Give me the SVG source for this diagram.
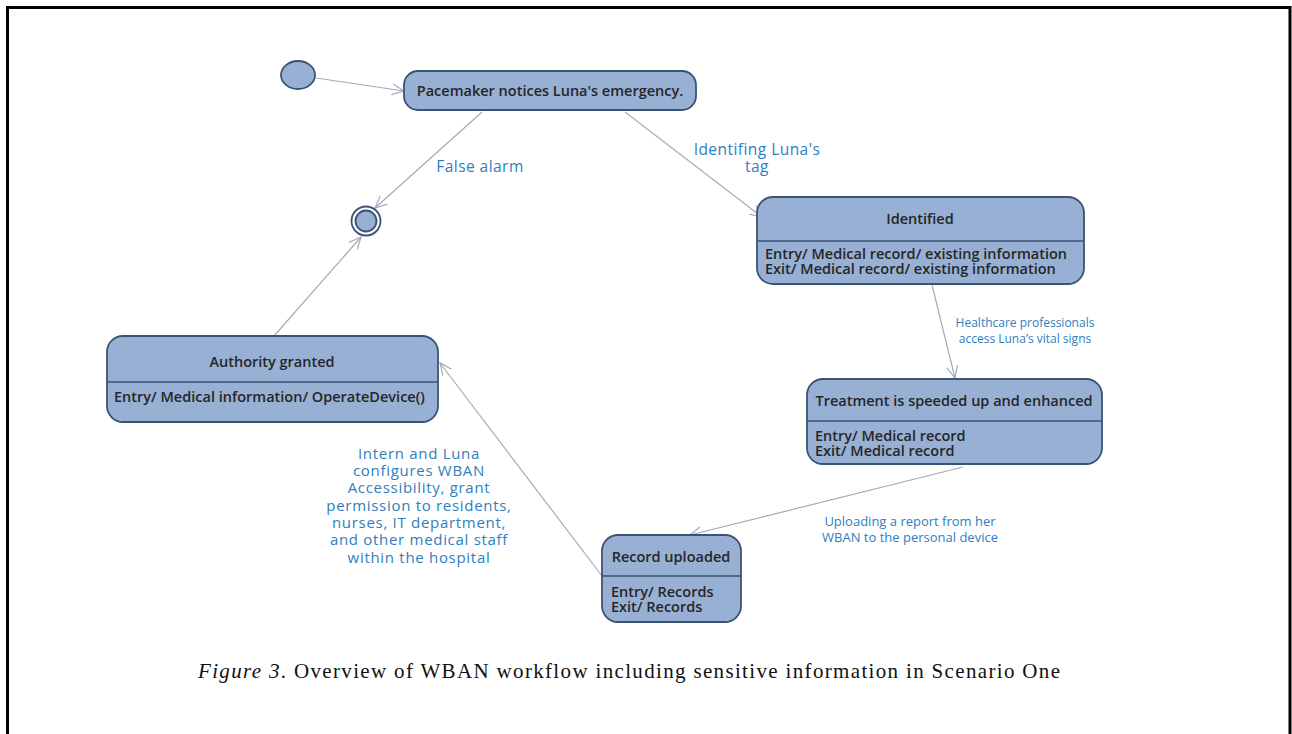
<svg xmlns="http://www.w3.org/2000/svg" width="1292" height="734" viewBox="0 0 1292 734">
  <style>
    .node { fill: #97b0d4; stroke: #3a5375; stroke-width: 1.8; }
    .div { stroke: #3a5375; stroke-width: 1.3; }
    .t { font-family: "Open Sans", "Liberation Sans", sans-serif; font-size: 14.5px; font-weight: 600; fill: #262626; }
    .c { text-anchor: middle; }
    .lbl { font-family: "Open Sans", "Liberation Sans", sans-serif; font-size: 15.5px; letter-spacing: 0.45px; fill: #2f7ec0; text-anchor: middle; }
    .blk { font-size: 15px; letter-spacing: 0.7px; }
    .sm { font-size: 12px; letter-spacing: 0; }
    .md { font-size: 13px; letter-spacing: 0; }
    .edge { fill: none; stroke: #a4abbb; stroke-width: 1.2; marker-end: url(#open); }
    .cap { font-family: "Liberation Serif", "DejaVu Serif", serif; font-size: 21px; fill: #111; }
  </style>
  <defs>
    <marker id="open" viewBox="0 0 13 13" refX="12" refY="6.5" markerWidth="13" markerHeight="13" markerUnits="userSpaceOnUse" orient="auto">
      <path d="M0,1 L12,6.5 L0,12" fill="none" stroke="#a4abbb" stroke-width="1.2"/>
    </marker>
  </defs>

  <rect x="0" y="0" width="1292" height="734" fill="#ffffff"/>
  <!-- page frame -->
  <path d="M7.5,740 L7.5,7.5 L1290,7.5 L1290,740" fill="none" stroke="#000" stroke-width="3"/>

  <!-- connectors -->
  <g id="connectors">
    <line class="edge" x1="316" y1="78" x2="404" y2="91"/>
    <line class="edge" x1="482" y1="112" x2="375" y2="208"/>
    <line class="edge" x1="625" y1="112" x2="762" y2="217"/>
    <line class="edge" x1="932" y1="285" x2="955" y2="378"/>
    <line class="edge" x1="963" y1="467" x2="690" y2="535"/>
    <line class="edge" x1="602" y1="576" x2="440" y2="363"/>
    <line class="edge" x1="274" y1="336" x2="361" y2="237"/>
  </g>

  <!-- connector labels -->
  <g id="labels">
    <text class="lbl" x="480" y="172">False alarm</text>
    <text class="lbl" x="757" y="155">Identifing Luna's</text>
    <text class="lbl" x="757" y="172">tag</text>
    <text class="lbl sm" x="1025" y="327">Healthcare professionals</text>
    <text class="lbl sm" x="1025" y="343">access Luna’s vital signs</text>
    <text class="lbl md" x="910" y="526">Uploading a report from her</text>
    <text class="lbl md" x="910" y="542">WBAN to the personal device</text>
    <text class="lbl blk" x="419" y="459">Intern and Luna</text>
    <text class="lbl blk" x="419" y="476">configures WBAN</text>
    <text class="lbl blk" x="419" y="493">Accessibility, grant</text>
    <text class="lbl blk" x="419" y="511">permission to residents,</text>
    <text class="lbl blk" x="419" y="528">nurses, IT department,</text>
    <text class="lbl blk" x="419" y="545">and other medical staff</text>
    <text class="lbl blk" x="419" y="563">within the hospital</text>
  </g>

  <!-- initial pseudo-state -->
  <g id="start">
    <ellipse cx="298" cy="75" rx="17" ry="14" class="node" stroke-width="1"/>
  </g>

  <!-- final state -->
  <g id="final">
    <circle cx="366" cy="221" r="14.5" fill="#ffffff" stroke="#3a5375" stroke-width="1.8"/>
    <circle cx="366" cy="221" r="10.5" class="node" stroke-width="1"/>
  </g>

  <g id="pacemaker">
    <rect class="node" x="404" y="71" width="292" height="39" rx="14"/>
    <text class="t c" x="550" y="96">Pacemaker notices Luna's emergency.</text>
  </g>

  <g id="identified">
    <rect class="node" x="757" y="197" width="327" height="87" rx="16"/>
    <line class="div" x1="757" y1="241" x2="1084" y2="241"/>
    <text class="t c" x="920" y="224">Identified</text>
    <text class="t" x="765" y="259">Entry/ Medical record/ existing information</text>
    <text class="t" x="765" y="274">Exit/ Medical record/ existing information</text>
  </g>

  <g id="authority">
    <rect class="node" x="107" y="336" width="331" height="86" rx="16"/>
    <line class="div" x1="107" y1="382" x2="438" y2="382"/>
    <text class="t c" x="272" y="367">Authority granted</text>
    <text class="t" x="114" y="402">Entry/ Medical information/ OperateDevice()</text>
  </g>

  <g id="treatment">
    <rect class="node" x="807" y="379" width="295" height="85" rx="16"/>
    <line class="div" x1="807" y1="421" x2="1102" y2="421"/>
    <text class="t c" x="954" y="406">Treatment is speeded up and enhanced</text>
    <text class="t" x="815" y="441">Entry/ Medical record</text>
    <text class="t" x="815" y="456">Exit/ Medical record</text>
  </g>

  <g id="uploaded">
    <rect class="node" x="602" y="535" width="139" height="87" rx="16"/>
    <line class="div" x1="602" y1="576" x2="741" y2="576"/>
    <text class="t c" x="671" y="562">Record uploaded</text>
    <text class="t" x="611" y="597">Entry/ Records</text>
    <text class="t" x="611" y="612">Exit/ Records</text>
  </g>

  <!-- caption -->
  <text class="cap" x="198" y="678" textLength="862" lengthAdjust="spacing"><tspan font-style="italic">Figure 3</tspan>. Overview of WBAN workflow including sensitive information in Scenario One</text>
</svg>
